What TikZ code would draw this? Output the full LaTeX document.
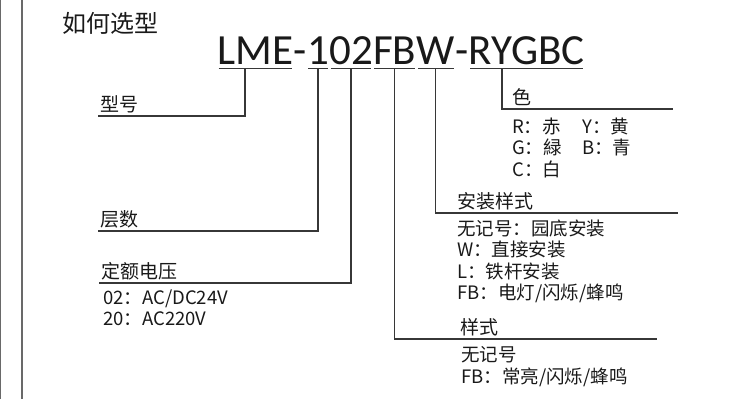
\documentclass[tikz,border=0pt]{standalone}
\usepackage{fontspec}
\setmainfont{Noto Sans CJK SC}
\newfontfamily\titlefont{Carlito}
\usetikzlibrary{positioning,calc}
\definecolor{ink}{RGB}{25,25,25}
\definecolor{rulegray}{RGB}{55,55,55}
\definecolor{framegray}{RGB}{105,105,105}

\begin{document}
\begin{tikzpicture}[x=1pt, y=-1pt,
    part/.style={inner sep=0pt, text height=30pt, text depth=4pt, text=ink,
      font=\titlefont\fontsize{43}{43}\selectfont},
    head/.style={anchor=south west, inner xsep=2pt, inner ysep=1pt, text height=17pt,
      text depth=3pt, text=ink, font=\fontsize{19}{19}\selectfont},
    note/.style={anchor=north west, inner sep=1pt, align=left, text=ink,
      font=\fontsize{18.5}{21.5}\selectfont},
    conn/.style={draw=rulegray, line width=1.2pt},
    uline/.style={draw=rulegray, line width=1pt, shorten <=1.5pt, shorten >=1.5pt}]
  \useasboundingbox (0,0) rectangle (747,399);

  % frame at the left
  \draw[framegray, line width=1.3pt] (0.7,0) -- (0.7,399);
  \draw[framegray, line width=1.3pt] (22,0) -- (22,399);

  % heading
  \node[anchor=base west, inner sep=0pt, text=ink, font=\fontsize{24}{24}\selectfont]
    (title) at (62,32) {如何选型};

  % model code, one node for each part
  \node[part, anchor=base west] (tLME) at (217,64) {LME};
  \node[part, right=0pt of tLME] (tdashA) {-};
  \node[part, right=0pt of tdashA] (tone) {1};
  \node[part, right=0pt of tone] (tvolt) {02};
  \node[part, right=0pt of tvolt] (tfb) {FB};
  \node[part, right=0pt of tfb] (tw) {W};
  \node[part, right=0pt of tw] (tdashB) {-};
  \node[part, right=0pt of tdashB] (tcol) {RYGBC};
  \foreach \p in {tLME,tone,tvolt,tfb,tw,tcol}
    \draw[uline] (\p.south west) -- (\p.south east);

  % labels on the left
  \node[head] (lXH) at (98,116) {型号};
  \node[head] (lCS) at (98,231) {层数};
  \node[head] (lDE) at (99,283) {定额电压};
  \node[note] (nDE) at (102,288.5) {02：AC/DC24V\\20：AC220V};

  % labels on the right
  \node[head] (lSe) at (510,109) {色};
  \node[note] (nSe) at (511,116.5) {\makebox[70pt][l]{R：赤}Y：黄\\
    \makebox[70pt][l]{G：緑}B：青\\C：白};
  \node[head] (lAZ) at (455,213) {安装样式};
  \node[note] (nAZ) at (456,218.5) {无记号：园底安装\\W：直接安装\\L：铁杆安装\\
    FB：电灯/闪烁/蜂鸣};
  \node[head] (lYS) at (458,339) {样式};
  \node[note] (nYS) at (460,345.5) {无记号\\FB：常亮/闪烁/蜂鸣};

  % connectors
  \coordinate (kXH) at (245,116);
  \coordinate (kSe) at (502,109);
  \coordinate (eSe) at (673,109);
  \coordinate (eAZ) at (678,213);
  \coordinate (eYS) at (657,339);
  \draw[conn] (kXH |- tLME.south) -- (kXH) -- (lXH.south west);
  \draw[conn] (tone.south) |- (lCS.south west);
  \draw[conn] (tvolt.south) |- (lDE.south west);
  \draw[conn] (tfb.south) |- (eYS);
  \draw[conn] (tw.south) |- (eAZ);
  \draw[conn] (kSe |- tcol.south) -- (kSe) -- (eSe);
\end{tikzpicture}
\end{document}
